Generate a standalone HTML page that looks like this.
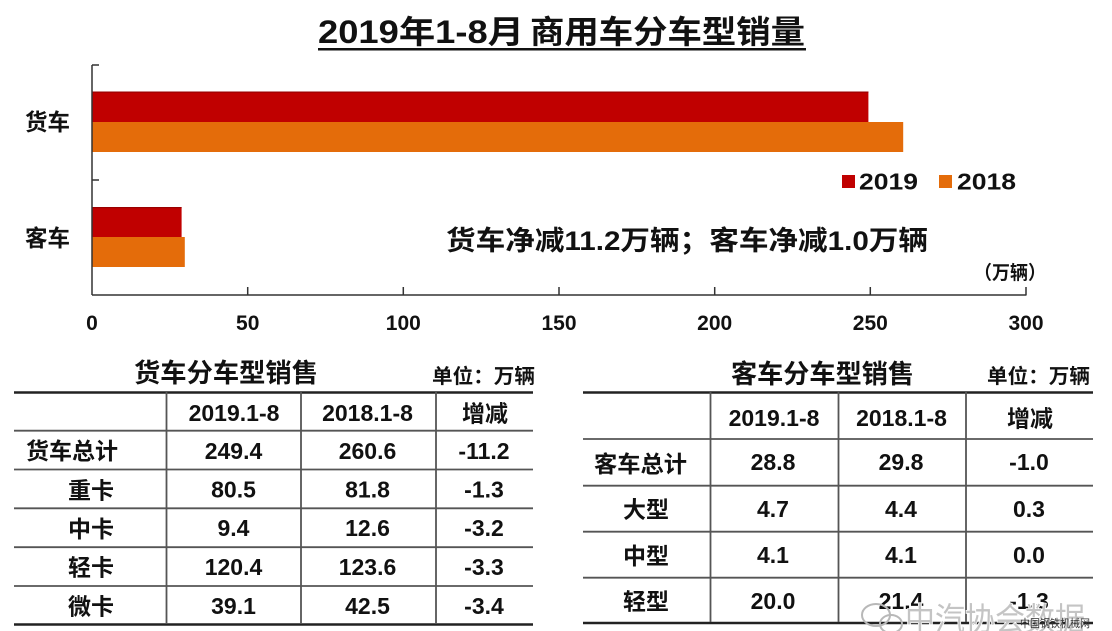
<!DOCTYPE html>
<html>
<head>
<meta charset="utf-8">
<style>
html,body{margin:0;padding:0;background:#fff;}
svg{display:block;}
text{font-family:"Liberation Sans","Noto Sans CJK SC",sans-serif;font-weight:bold;fill:#111;}
</style>
</head>
<body>
<svg width="1112" height="631" viewBox="0 0 1112 631" xmlns="http://www.w3.org/2000/svg">
<rect width="1112" height="631" fill="#fff"/>

<!-- Title -->
<text x="318" y="43" font-size="32" textLength="206" lengthAdjust="spacingAndGlyphs">2019年1-8月</text>
<text x="530" y="43" font-size="32" textLength="275" lengthAdjust="spacingAndGlyphs">商用车分车型销量</text>
<rect x="318" y="48" width="488" height="2.5" fill="#111"/>

<!-- Bars -->
<rect x="92" y="91.5" width="776.4" height="30.5" fill="#C00000"/>
<rect x="92" y="91.5" width="776.4" height="1.2" fill="#9a0000"/>
<rect x="92" y="122" width="811.2" height="30" fill="#E46C0A"/>
<rect x="92" y="207" width="89.6" height="30" fill="#C00000"/>
<rect x="92" y="207" width="89.6" height="1.2" fill="#9a0000"/>
<rect x="92" y="237" width="92.8" height="30" fill="#E46C0A"/>

<!-- Axes -->
<g stroke="#333" stroke-width="1.5" fill="none">
<line x1="92" y1="65" x2="92" y2="295"/>
<line x1="92" y1="295" x2="1026.5" y2="295"/>
<line x1="92" y1="65" x2="99" y2="65"/>
<line x1="92" y1="180" x2="99" y2="180"/>
<line x1="247.7" y1="287" x2="247.7" y2="295"/>
<line x1="403.3" y1="287" x2="403.3" y2="295"/>
<line x1="559" y1="287" x2="559" y2="295"/>
<line x1="714.7" y1="287" x2="714.7" y2="295"/>
<line x1="870.3" y1="287" x2="870.3" y2="295"/>
<line x1="1026" y1="287" x2="1026" y2="295"/>
</g>

<!-- Tick labels -->
<g font-size="21" text-anchor="middle">
<text x="92" y="330">0</text>
<text x="247.7" y="330">50</text>
<text x="403.3" y="330">100</text>
<text x="559" y="330">150</text>
<text x="714.7" y="330">200</text>
<text x="870.3" y="330">250</text>
<text x="1026" y="330">300</text>
</g>

<!-- Category labels -->
<text x="25" y="130" font-size="23" textLength="45" lengthAdjust="spacingAndGlyphs">货车</text>
<text x="25" y="246" font-size="23" textLength="45" lengthAdjust="spacingAndGlyphs">客车</text>

<!-- Legend -->
<rect x="842" y="175" width="13" height="13" fill="#C00000"/>
<text x="859" y="189.5" font-size="23" textLength="59" lengthAdjust="spacingAndGlyphs">2019</text>
<rect x="939" y="175" width="13" height="13" fill="#E46C0A"/>
<text x="957" y="189.5" font-size="23" textLength="59" lengthAdjust="spacingAndGlyphs">2018</text>

<!-- Annotation -->
<text x="446" y="250" font-size="27" textLength="482" lengthAdjust="spacingAndGlyphs">货车净减11.2万辆；客车净减1.0万辆</text>
<text x="974" y="279" font-size="19" textLength="72" lengthAdjust="spacingAndGlyphs">（万辆）</text>

<!-- Left table -->
<text x="134" y="382" font-size="26" textLength="184" lengthAdjust="spacingAndGlyphs">货车分车型销售</text>
<text x="432" y="383" font-size="20" textLength="103" lengthAdjust="spacingAndGlyphs">单位：万辆</text>
<g stroke="#222" fill="none">
<line x1="14" y1="392.5" x2="533" y2="392.5" stroke-width="2.5"/>
<line x1="14" y1="624.5" x2="533" y2="624.5" stroke-width="2.5"/>
</g>
<g stroke="#555" stroke-width="1.8" fill="none">
<line x1="14" y1="430.7" x2="533" y2="430.7"/>
<line x1="14" y1="469.5" x2="533" y2="469.5"/>
<line x1="14" y1="508.3" x2="533" y2="508.3"/>
<line x1="14" y1="547.2" x2="533" y2="547.2"/>
<line x1="14" y1="586" x2="533" y2="586"/>
<line x1="166.5" y1="392" x2="166.5" y2="624"/>
<line x1="301" y1="392" x2="301" y2="624"/>
<line x1="436" y1="392" x2="436" y2="624"/>
</g>
<g font-size="23" text-anchor="middle">
<text x="234" y="421">2019.1-8</text>
<text x="367.5" y="421">2018.1-8</text>
<text x="485" y="421.5">增减</text>
<text x="233.5" y="459">249.4</text>
<text x="367.5" y="459">260.6</text>
<text x="484" y="459">-11.2</text>
<text x="233.5" y="497.5">80.5</text>
<text x="367.5" y="497.5">81.8</text>
<text x="484" y="497.5">-1.3</text>
<text x="233.5" y="536">9.4</text>
<text x="367.5" y="536">12.6</text>
<text x="484" y="536">-3.2</text>
<text x="233.5" y="575">120.4</text>
<text x="367.5" y="575">123.6</text>
<text x="484" y="575">-3.3</text>
<text x="233.5" y="614">39.1</text>
<text x="367.5" y="614">42.5</text>
<text x="484" y="614">-3.4</text>
</g>
<g font-size="23">
<text x="26" y="459" textLength="92" lengthAdjust="spacingAndGlyphs">货车总计</text>
<text x="68" y="498.5" textLength="46" lengthAdjust="spacingAndGlyphs">重卡</text>
<text x="68" y="537" textLength="46" lengthAdjust="spacingAndGlyphs">中卡</text>
<text x="68" y="575.5" textLength="46" lengthAdjust="spacingAndGlyphs">轻卡</text>
<text x="68" y="614.5" textLength="46" lengthAdjust="spacingAndGlyphs">微卡</text>
</g>

<!-- Right table -->
<text x="731" y="383" font-size="26" textLength="183" lengthAdjust="spacingAndGlyphs">客车分车型销售</text>
<text x="987" y="383" font-size="20" textLength="103" lengthAdjust="spacingAndGlyphs">单位：万辆</text>
<g stroke="#222" fill="none">
<line x1="583" y1="392.5" x2="1093" y2="392.5" stroke-width="2.5"/>
<line x1="583" y1="623" x2="1093" y2="623" stroke-width="2.5"/>
</g>
<g stroke="#555" stroke-width="1.8" fill="none">
<line x1="583" y1="439" x2="1093" y2="439"/>
<line x1="583" y1="485.7" x2="1093" y2="485.7"/>
<line x1="583" y1="531.7" x2="1093" y2="531.7"/>
<line x1="583" y1="577.7" x2="1093" y2="577.7"/>
<line x1="710.5" y1="392" x2="710.5" y2="622"/>
<line x1="838.5" y1="392" x2="838.5" y2="622"/>
<line x1="966" y1="392" x2="966" y2="622"/>
</g>
<g font-size="23" text-anchor="middle">
<text x="774" y="426">2019.1-8</text>
<text x="901.5" y="426">2018.1-8</text>
<text x="1030" y="426.5">增减</text>
<text x="773" y="470">28.8</text>
<text x="901" y="470">29.8</text>
<text x="1029" y="470">-1.0</text>
<text x="773" y="517">4.7</text>
<text x="901" y="517">4.4</text>
<text x="1029" y="517">0.3</text>
<text x="773" y="563">4.1</text>
<text x="901" y="563">4.1</text>
<text x="1029" y="563">0.0</text>
<text x="773" y="609">20.0</text>
<text x="901" y="609">21.4</text>
<text x="1029" y="609">-1.3</text>
</g>
<g font-size="23">
<text x="594" y="472" textLength="93" lengthAdjust="spacingAndGlyphs">客车总计</text>
<text x="623" y="517.5" textLength="46" lengthAdjust="spacingAndGlyphs">大型</text>
<text x="623" y="564" textLength="46" lengthAdjust="spacingAndGlyphs">中型</text>
<text x="623" y="609.5" textLength="46" lengthAdjust="spacingAndGlyphs">轻型</text>
</g>

<!-- Watermark -->
<g fill="none" stroke="#b8b8b8" stroke-width="2">
<ellipse cx="876" cy="615" rx="14" ry="11"/>
<ellipse cx="891" cy="624" rx="11" ry="9"/>
</g>
<text x="905" y="630" font-size="32" textLength="180" lengthAdjust="spacingAndGlyphs" style="fill:#c4c4c4;font-weight:normal;stroke:#fff;stroke-width:1.5;paint-order:stroke;">中汽协会数据</text>
<text x="1020" y="627" font-size="11" textLength="70" lengthAdjust="spacingAndGlyphs" style="fill:#333;font-weight:normal;">中国钢铁机械网</text>
</svg>
</body>
</html>
